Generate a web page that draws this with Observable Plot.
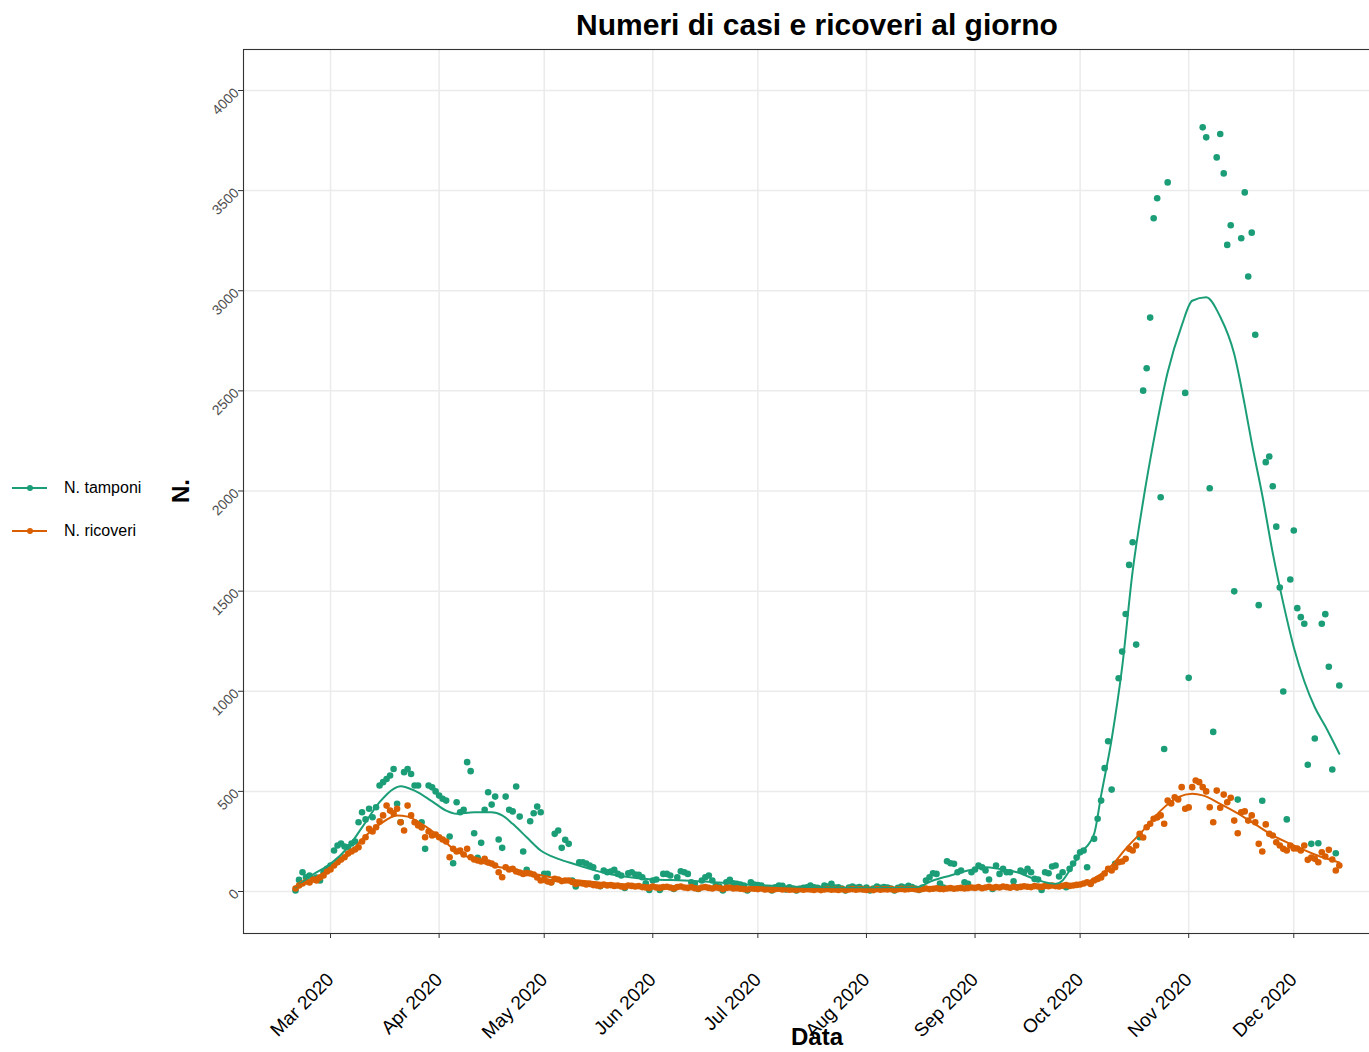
<!DOCTYPE html>
<html>
<head>
<meta charset="utf-8">
<script src="https://cdn.jsdelivr.net/npm/d3@7"></script>
<script src="https://cdn.jsdelivr.net/npm/@observablehq/plot@0.6"></script>
<style>
  html, body { margin: 0; padding: 0; background: #fff; overflow: hidden; width: 1369px; height: 1052px; }
  #wrap { position: relative; width: 1369px; height: 1052px; overflow: hidden; font-family: "Liberation Sans", Arial, sans-serif; }
  #chart { position: absolute; left: 0; top: 0; width: 1396px; height: 1052px; }
  #chart svg { display: block; max-width: none !important; width: 1396px; height: 1052px; }
  #title { position: absolute; left: 243px; width: 1148px; top: 8px; text-align: center; font-weight: bold; font-size: 30px; color: #000; }
  #ytitle { position: absolute; left: 181px; top: 491px; transform: translate(-50%, -50%) rotate(-90deg); font-weight: bold; font-size: 24px; color: #000; white-space: nowrap; }
  #xtitle { position: absolute; left: 243px; width: 1148px; top: 1023px; text-align: center; font-weight: bold; font-size: 24px; color: #000; }
  .leg { position: absolute; left: 10px; height: 20px; display: flex; align-items: center; font-size: 16px; color: #000; }
  .leg svg { display: block; margin-right: 14px; }
</style>
</head>
<body>
<div id="wrap">
  <div id="chart"></div>
  <div id="title">Numeri di casi e ricoveri al giorno</div>
  <div id="ytitle">N.</div>
  <div id="xtitle">Data</div>
  <div id="legend"></div>
</div>
<script>
// ---------------- data ----------------
const seriesNames = ["N. tamponi", "N. ricoveri"];
const seriesColors = ["#1B9E77", "#D95F02"];
const firstDate = "2020-02-20"; // daily values from this date to 2020-12-14

// N. tamponi (daily, null = no point)
const tamponi = [
  // Feb 20-29
  5, 58, 96, 71, 80, 63, 70, 55, 95, 113,
  // Mar
  130, 205, 230, 240, 225, 221, 240, 250, 346, 396, 360, 413, 371, 421, 529, 546, 562, 579, 612, 438, 346, 596, 612, 587, 529, 529, 346, 213, 529, 520, 500,
  // Apr
  479, 463, 454, 275, 141, 446, 396, 408, 646, 601, 291, 168, 243, 408, 496, 434, 474, 260, 218, 474, 408, 400, 524, 374, 200, 108, 351, 391, 424, 396,
  // May
  88, 88, 46, 288, 305, 218, 258, 238, 55, 25, 146, 146, 140, 130, 121, 71, 26, 105, 96, 100, 108, 88, 80, 18, 91, 96, 85, 83, 71, 41, 8,
  // Jun
  55, 60, 8, 88, 88, 80, 13, 71, 101, 96, 88, 46, 40, 13, 55, 71, 80, 55, 30, 25, 5, 46, 58, 41, 38, 35, 30, 5, 46, 35,
  // Jul
  32, 30, 13, 15, 5, 21, 30, 28, 10, 21, 15, 5, 13, 18, 21, 30, 21, 18, 13, 30, 25, 38, 20, 21, 15, 5, 20, 25, 18, 22, 12,
  // Aug
  20, 5, 15, 25, 18, 22, 20, 15, 5, 18, 25, 20, 28, 22, 15, 8, 20, 55, 71, 91, 88, 40, 20, 151, 141, 138, 96, 105, 46, 38, 96,
  // Sep
  110, 130, 121, 105, 60, 13, 130, 88, 113, 96, 96, 51, 21, 105, 96, 113, 96, 63, 60, 8, 96, 91, 125, 130, 75, 96, 21, 113, 140, 170,
  // Oct
  196, 205, 121, 41, 263, 363, 454, 616, 750, 509, 138, 1065, 1198, 1386, 1631, 1744, 1233, 271, 2501, 2613, 2866, 3362, 3462, 1969, 712, 3541, null, null, null, null, 2490,
  // Nov
  1067, null, null, null, 3816, 3766, 2014, 797, 3666, 3783, 3586, 3229, 3327, 1499, 459, 3262, 3491, 3071, 3290, 2780, 1430, 453, 2144, 2172, 2024, 1822, 1518, 999, 360, 1558,
  // Dec 1-14
  1803, 1415, 1370, 1337, 633, 238, 764, 241, 1337, 1385, 1122, 609, 191, 1029
];

// N. ricoveri (daily)
const ricoveri = [
  // Feb 20-29
  15, 30, 40, 50, 45, 60, 55, 70, 80, 100,
  // Mar
  110, 130, 146, 160, 171, 190, 200, 210, 221, 250, 271, 313, 300, 321, 350, 380, 429, 404, 390, 413, 346, 305, 429, 380, 346, 330, 320, 271, 300, 280, 285,
  // Apr
  271, 260, 250, 171, 213, 200, 205, 185, 213, 171, 160, 155, 150, 163, 145, 140, 130, 96, 71, 121, 110, 113, 100, 95, 88, 92, 90, 85, 70, 55,
  // May
  58, 50, 45, 63, 60, 52, 55, 55, 48, 38, 42, 40, 35, 38, 32, 30, 28, 35, 30, 32, 28, 30, 25, 22, 30, 28, 25, 27, 22, 20, 18,
  // Jun
  25, 20, 18, 22, 24, 20, 15, 22, 25, 20, 18, 22, 16, 14, 20, 22, 18, 15, 20, 17, 12, 18, 20, 15, 16, 14, 12, 10, 15, 14,
  // Jul
  12, 15, 10, 11, 8, 12, 14, 10, 12, 9, 10, 8, 12, 9, 11, 10, 8, 11, 7, 10, 12, 9, 10, 8, 11, 7, 10, 12, 9, 11, 10,
  // Aug
  8, 10, 7, 12, 9, 11, 10, 12, 8, 11, 13, 10, 12, 14, 11, 9, 13, 15, 12, 14, 16, 13, 12, 15, 17, 14, 16, 18, 15, 17, 20,
  // Sep
  18, 22, 16, 20, 24, 18, 22, 20, 25, 22, 19, 24, 20, 23, 26, 24, 22, 27, 25, 23, 28, 26, 30, 27, 25, 29, 32, 28, 30, 33,
  // Oct
  35, 40, 46, 38, 55, 63, 70, 90, 113, 105, 121, 146, 150, 163, 213, 205, 230, 288, 270, 321, 338, 363, 370, 380, 338, 454, 440, 471, 460, 521, 413,
  // Nov
  420, 521, 554, 546, 521, 500, 421, 346, 504, 418, 484, 446, 468, 354, 291, 396, 400, 354, 380, 346, 238, 200, 335, 288, 280, 246, 230, 213, 205, 230,
  // Dec 1-14
  215, 215, 205, 230, 158, 170, 163, 146, 196, 175, 208, 160, 105, 130
];

// Smoothed trend lines
const tamponiSmoothDates = ["2020-02-20","2020-02-25","2020-03-01","2020-03-06","2020-03-10","2020-03-15","2020-03-19","2020-03-21","2020-03-25","2020-03-30","2020-04-03","2020-04-06","2020-04-11","2020-04-16","2020-04-19","2020-04-22","2020-04-26","2020-04-30","2020-05-05","2020-05-10","2020-05-14","2020-05-19","2020-05-25","2020-06-01","2020-06-10","2020-06-20","2020-07-01","2020-07-15","2020-08-01","2020-08-15","2020-08-20","2020-08-25","2020-08-30","2020-09-04","2020-09-08","2020-09-13","2020-09-18","2020-09-24","2020-09-26","2020-09-28","2020-10-01","2020-10-05","2020-10-07","2020-10-10","2020-10-13","2020-10-16","2020-10-19","2020-10-22","2020-10-26","2020-10-30","2020-11-02","2020-11-06","2020-11-10","2020-11-14","2020-11-17","2020-11-19","2020-11-22","2020-11-25","2020-11-28","2020-12-01","2020-12-04","2020-12-07","2020-12-10","2020-12-14"];
const tamponiSmoothValues = [21, 85, 138, 221, 320, 446, 513, 526, 504, 450, 404, 388, 396, 396, 380, 338, 271, 205, 163, 135, 113, 90, 72, 60, 55, 45, 32, 22, 17, 20, 55, 80, 105, 121, 113, 96, 63, 38, 55, 105, 188, 288, 480, 760, 1120, 1600, 1950, 2250, 2593, 2826, 2950, 2967, 2870, 2684, 2430, 2240, 1980, 1690, 1440, 1220, 1050, 920, 825, 688];

const ricoveriSmoothDates = ["2020-02-20","2020-02-25","2020-03-01","2020-03-06","2020-03-10","2020-03-15","2020-03-20","2020-03-23","2020-03-27","2020-04-01","2020-04-06","2020-04-11","2020-04-16","2020-04-21","2020-04-26","2020-05-01","2020-05-06","2020-05-11","2020-05-20","2020-06-01","2020-06-15","2020-07-01","2020-07-15","2020-08-01","2020-08-15","2020-09-01","2020-09-15","2020-10-01","2020-10-05","2020-10-10","2020-10-14","2020-10-19","2020-10-24","2020-10-29","2020-11-02","2020-11-05","2020-11-10","2020-11-15","2020-11-20","2020-11-25","2020-12-01","2020-12-07","2020-12-14"];
const ricoveriSmoothValues = [25, 63, 113, 180, 260, 335, 380, 374, 338, 275, 200, 160, 130, 113, 96, 78, 63, 55, 40, 30, 22, 15, 12, 11, 13, 18, 25, 35, 65, 130, 213, 305, 404, 471, 488, 480, 438, 390, 335, 280, 230, 185, 145];

// Axis ticks
const yTicks = [0, 500, 1000, 1500, 2000, 2500, 3000, 3500, 4000];
const monthTicks = ["2020-03-01","2020-04-01","2020-05-01","2020-06-01","2020-07-01","2020-08-01","2020-09-01","2020-10-01","2020-11-01","2020-12-01"];

// ---------------- build ----------------
const DAY = 864e5;
const t0 = new Date(firstDate + "T00:00:00Z").getTime();
function daily(values, name) {
  return values.map((v, i) => ({date: new Date(t0 + i * DAY), value: v, series: name})).filter(d => d.value != null);
}
function smooth(dates, values, name) {
  return dates.map((d, i) => ({date: new Date(d + "T00:00:00Z"), value: values[i], series: name}));
}
const ptsT = daily(tamponi, seriesNames[0]);
const ptsR = daily(ricoveri, seriesNames[1]);
const lnT = smooth(tamponiSmoothDates, tamponiSmoothValues, seriesNames[0]);
const lnR = smooth(ricoveriSmoothDates, ricoveriSmoothValues, seriesNames[1]);
const monthDates = monthTicks.map(d => new Date(d + "T00:00:00Z"));

const xDomain = [new Date("2020-02-05T03:36:00Z"), new Date("2020-12-28T21:36:00Z")];
const yDomain = [-209.7, 4204.7];

const chart = Plot.plot({
  width: 1396,
  height: 1052,
  marginLeft: 243,
  marginRight: 5,
  marginTop: 49,
  marginBottom: 119,
  style: {fontFamily: "'Liberation Sans', Arial, sans-serif", background: "transparent", overflow: "visible", maxWidth: "none"},
  x: {type: "utc", domain: xDomain},
  y: {domain: yDomain},
  color: {domain: seriesNames, range: seriesColors},
  marks: [
    Plot.gridX(monthDates, {stroke: "#EBEBEB", strokeOpacity: 1, strokeWidth: 1.5}),
    Plot.gridY(yTicks, {stroke: "#EBEBEB", strokeOpacity: 1, strokeWidth: 1.5}),
    Plot.axisY(yTicks, {tickSize: 5, tickPadding: 2, tickRotate: -45, fontSize: 14, fill: "#4D4D4D", stroke: "#333333", tickFormat: d => String(d), label: null}),
    Plot.axisX(monthDates, {tickSize: 5, tickPadding: 38, tickRotate: -45, fontSize: 19, fill: "#000", stroke: "#333333", tickFormat: d3.utcFormat("%b %Y"), label: null}),
    Plot.dot(ptsT, {x: "date", y: "value", r: 3.3, fill: "series", stroke: null}),
    Plot.dot(ptsR, {x: "date", y: "value", r: 3.3, fill: "series", stroke: null}),
    Plot.line(lnT, {x: "date", y: "value", stroke: "series", strokeWidth: 2, curve: "monotone-x"}),
    Plot.line(lnR, {x: "date", y: "value", stroke: "series", strokeWidth: 2, curve: "monotone-x"}),
    Plot.frame({stroke: "#333333", strokeWidth: 1.1})
  ]
});
document.getElementById("chart").appendChild(chart);

// legend
const legend = document.getElementById("legend");
const legendTops = [478, 521];
seriesNames.forEach((name, i) => {
  const div = document.createElement("div");
  div.className = "leg";
  div.style.top = legendTops[i] + "px";
  div.innerHTML = `<svg width="40" height="20"><line x1="2" y1="10" x2="37" y2="10" stroke="${seriesColors[i]}" stroke-width="2"/><circle cx="20" cy="10" r="3" fill="${seriesColors[i]}"/></svg><span>${name}</span>`;
  legend.appendChild(div);
});
</script>
</body>
</html>
